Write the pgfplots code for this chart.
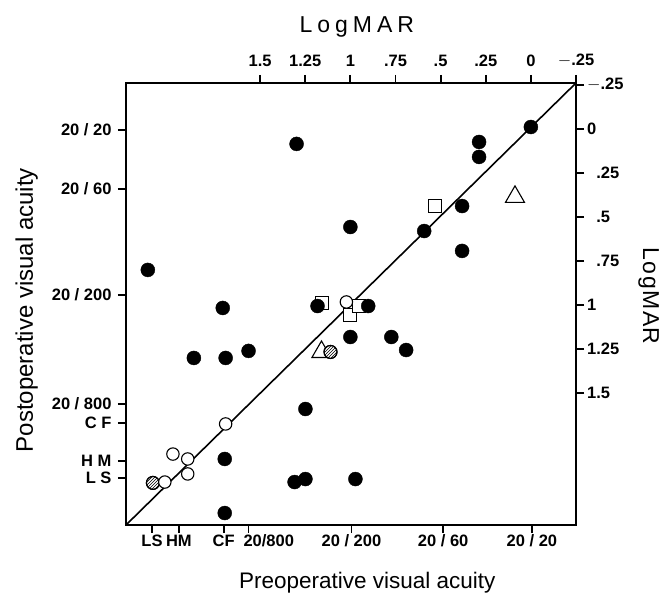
\documentclass[border=0pt]{standalone}
\usepackage{fontspec}
\setmainfont{Liberation Sans}
\usepackage{pgfplots}
\pgfplotsset{compat=1.18}
\usetikzlibrary{patterns}

% x = -LogMAR(pre), y = -LogMAR(post), so that better acuity is up/right
\pgfplotsset{
  vabox/.style={
    scale only axis, width=450pt, height=442pt,
    at={(0pt,0pt)}, anchor=south west,
    xmin=-2.243, xmax=0.25, ymin=-2.25, ymax=0.261,
    axis line style={line width=1.6pt},
    major tick length=8pt,
    tick align=outside,
    ticklabel style={font=\fontsize{16.5}{16.5}\selectfont\bfseries},
  },
}

\begin{document}
\begin{tikzpicture}[x=1pt,y=1pt]
\useasboundingbox (-126,-71) rectangle (539,525);

% LogMAR scale, top and right
\begin{axis}[vabox,
  xtick pos=right, xticklabel pos=right,
  ytick pos=right, yticklabel pos=right,
  xtick={-1.5,-1.25,-1,-0.75,-0.5,-0.25,0,0.25},
  xticklabels={1.5,1.25,1,.75,.5,.25,0,$-$.25},
  xticklabel style={yshift=5pt},
  ytick={-1.5,-1.25,-1,-0.75,-0.5,-0.25,0,0.25},
  yticklabels={1.5,1.25,1,\phantom{0}.75,\phantom{0}.5,\phantom{0}.25,0,$-$.25},
  yticklabel style={anchor=west, inner sep=3pt},
  xlabel={L\kern5pt o\kern5pt g\kern5pt M\kern5pt A\kern5pt R},
  xlabel style={at={(axis description cs:0.513,1.115)}, anchor=base,
    font=\fontsize{23}{23}\selectfont},
  ylabel={L\kern1.5pt o\kern1.5pt g\kern1.5pt M\kern1.5pt A\kern1.5pt R},
  ylabel style={at={(axis description cs:1.149,0.518)}, anchor=base, rotate=180,
    font=\fontsize{23}{23}\selectfont},
  every tick/.style={black, line width=1.8pt},
  clip=false,
]
\pgfplotsinvokeforeach{-1.5,-1.25,-1,-0.75,-0.5,-0.25,0,0.25}{
  \draw[line width=1.8pt] (axis cs:#1,0.261) -- ++(0pt,8pt);
  \draw[line width=1.8pt] (axis cs:0.25,#1) -- ++(8pt,0pt);
}
\end{axis}

% Snellen scale, bottom and left, with the data
\begin{axis}[vabox,
  xtick pos=left, xticklabel pos=left,
  ytick pos=left, yticklabel pos=left,
  xtick={-2.099,-1.950,-1.702,-1.564,-0.994,-0.486,0.006},
  xticklabels={LS,HM,CF,\makebox[0pt][l]{\hspace{-5pt}20/800},20 / 200,20 / 60,20 / 20},
  xticklabel style={inner sep=1.5pt},
  ytick={-1.983,-1.886,-1.670,-1.5625,-0.943,-0.341,-0.006},
  yticklabels={L S,H M,C F,20 / 800,20 / 200,20 / 60,20 / 20},
  yticklabel style={xshift=-3pt},
  xlabel={Preoperative visual acuity},
  xlabel style={at={(axis description cs:0.536,-0.1448)}, anchor=base,
    font=\fontsize{22.5}{22.5}\selectfont},
  ylabel={Postoperative visual acuity},
  ylabel style={at={(axis description cs:-0.2067,0.486)}, anchor=base,
    font=\fontsize{24}{24}\selectfont},
  every tick/.style={black, line width=1.8pt},
  clip=false,
]
\pgfplotsinvokeforeach{-2.099,-1.950,-1.702,-1.564,-0.994,-0.486,0.006}{
  \draw[line width=1.8pt] (axis cs:#1,-2.25) -- ++(0pt,-8pt);
}
\pgfplotsinvokeforeach{-1.983,-1.886,-1.670,-1.5625,-0.943,-0.341,-0.006}{
  \draw[line width=1.8pt] (axis cs:-2.243,#1) -- ++(-8pt,0pt);
}
% line of equality
\addplot[black, line width=1.6pt] coordinates {(-2.243,-2.25) (0.25,0.261)};

% open squares
\addplot[only marks, mark=square*, mark size=6.5pt,
  mark options={draw=black, fill=white, line width=1.1pt}] coordinates {
(-0.530,-0.438) (-1.155,-0.989) (-1.000,-1.057) (-0.950,-1.006)
};
% open triangles
\addplot[only marks, mark=triangle*, mark size=11pt,
  mark options={draw=black, fill=white, line width=1.1pt}] coordinates {
(-0.088,-0.386) (-1.160,-1.267)
};
% hatched circles
\addplot[only marks, mark=*, mark size=6.5pt,
  mark options={draw=black, fill=white, line width=1.1pt}] coordinates {
(-1.110,-1.267) (-2.094,-2.011)
};
\addplot[only marks, mark=*, mark size=6.5pt,
  mark options={draw=black, pattern=north east lines, line width=1.1pt}] coordinates {
(-1.110,-1.267) (-2.094,-2.011)
};
% filled circles
\addplot[only marks, mark=*, mark size=7pt,
  mark options={draw=black, fill=black}] coordinates {
(0.000,0.011) (-0.287,-0.074) (-0.287,-0.159) (-1.298,-0.085)
(-1.000,-0.557) (-0.381,-0.438) (-0.591,-0.580) (-0.381,-0.693)
(-2.122,-0.801) (-1.707,-1.017) (-1.182,-1.006) (-0.901,-1.006)
(-1.000,-1.182) (-0.773,-1.182) (-0.691,-1.256) (-1.564,-1.261)
(-1.867,-1.301) (-1.691,-1.301) (-1.249,-1.591) (-1.696,-1.875)
(-1.309,-2.006) (-1.249,-1.989) (-0.972,-1.989) (-1.696,-2.182)
};
% open circles
\addplot[only marks, mark=*, mark size=6.2pt,
  mark options={draw=black, fill=white, line width=1.1pt}] coordinates {
(-1.022,-0.983) (-1.691,-1.676) (-1.983,-1.847) (-1.901,-1.875)
(-1.901,-1.960) (-2.028,-2.006)
};
\end{axis}
\end{tikzpicture}
\end{document}
